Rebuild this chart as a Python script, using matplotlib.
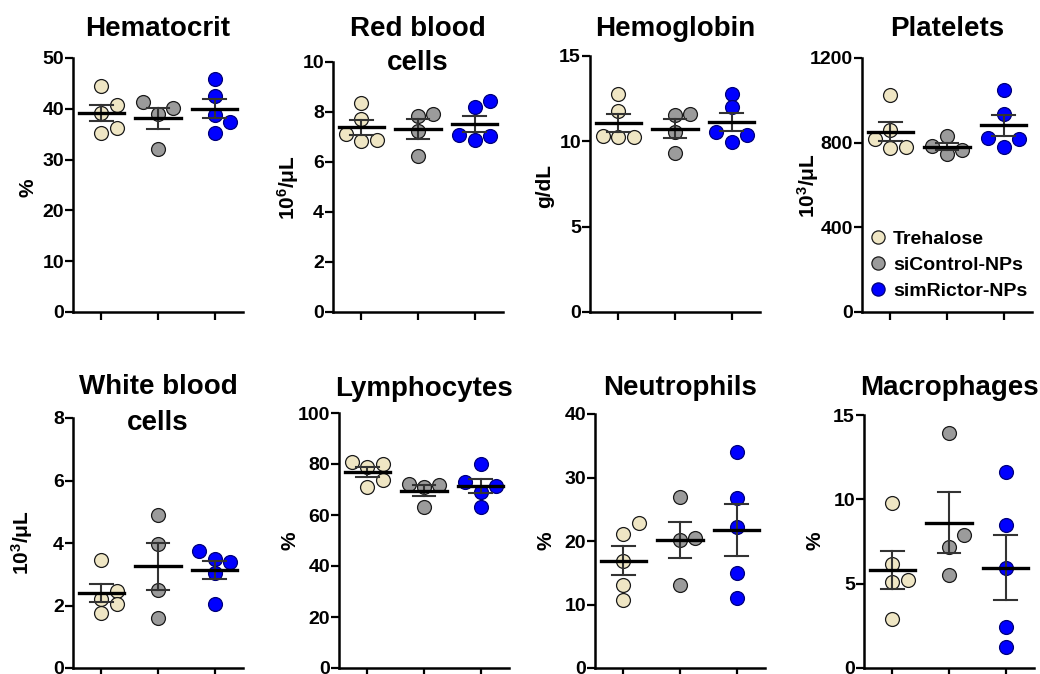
import numpy as np
import matplotlib
matplotlib.use("Agg")
import matplotlib.pyplot as plt
from matplotlib.lines import Line2D

plt.rcParams['font.family'] = ['Liberation Sans', 'DejaVu Sans']
plt.rcParams['font.weight'] = 'bold'
plt.rcParams['mathtext.fontset'] = 'custom'
plt.rcParams['mathtext.rm'] = 'Liberation Sans:bold'
plt.rcParams['mathtext.it'] = 'Liberation Sans:bold'
plt.rcParams['mathtext.bf'] = 'Liberation Sans:bold'

groups = ["Trehalose", "siControl-NPs", "simRictor-NPs"]
colors = ["#efe6c4", "#9b9b9b", "#0000ff"]
edges = ["#1a1a1a", "#1a1a1a", "#00007a"]

titles = ["Hematocrit", "Red blood\ncells", "Hemoglobin", "Platelets",
          "White blood\ncells", "Lymphocytes", "Neutrophils", "Macrophages"]
ylabels = ["%", r"10$^{6}$/μL", "g/dL", r"10$^{3}$/μL",
           r"10$^{3}$/μL", "%", "%", "%"]
ymax = [50, 10, 15, 1200, 8, 100, 40, 15]
ystep = [10, 2, 5, 400, 2, 20, 10, 5]

# values per group: Trehalose, siControl-NPs, simRictor-NPs
hematocrit = [[44.4, 40.8, 39.1, 36.2, 35.3], [40.1, 41.4, 38.9, 32.1],
              [45.9, 42.6, 38.8, 37.4, 35.3]]
rbc = [[8.36, 7.74, 7.14, 6.87, 6.83], [7.86, 7.94, 7.23, 6.23],
       [8.43, 8.20, 7.10, 7.06, 6.87]]
hemoglobin = [[12.78, 11.75, 10.29, 10.25, 10.25], [11.55, 11.59, 10.54, 9.31],
              [12.78, 12.0, 10.54, 10.38, 9.99]]
platelets = [[1027, 861, 819, 780, 776], [830, 783, 767, 745],
             [1050, 937, 824, 819, 780]]
wbc = [[3.45, 2.47, 2.22, 2.05, 1.76], [4.91, 3.98, 2.51, 1.60],
       [3.73, 3.50, 3.39, 3.04, 2.05]]
lymphocytes = [[80.0, 79.0, 80.9, 73.8, 71.1], [71.8, 70.9, 72.2, 63.3],
               [80.0, 73.1, 71.5, 69.2, 63.3]]
neutrophils = [[22.8, 21.1, 16.8, 13.1, 10.7], [26.9, 20.4, 20.1, 13.1],
               [34.0, 26.8, 22.2, 14.9, 11.1]]
macrophages = [[9.81, 6.18, 5.19, 5.07, 2.92], [13.91, 7.89, 7.20, 5.49],
               [11.64, 8.49, 5.92, 2.43, 1.24]]
panels = [hematocrit, rbc, hemoglobin, platelets,
          wbc, lymphocytes, neutrophils, macrophages]

W, H = 1040, 674
# axes boxes in pixels: left, top, bottom
boxes = [(73, 58, 312), (333, 62, 312), (590, 56, 312), (862, 58, 312),
         (73, 418, 668), (339, 413, 668), (595, 414, 668), (864, 415, 668)]
AXW = 170
title_y = [29, 46, 29, 29, 405, 389, 388, 388]
ylab_pos = [(28, 188), (288, 188), (545, 186), (808, 186),
            (22, 543), (290, 541), (546, 541), (815, 541)]


def swarm(vals, px_per_unit, step=0.27, px_per_x=57, thresh=13):
    vals = np.asarray(vals, dtype=float)
    offs = np.zeros(len(vals))
    placed = []
    for i in np.argsort(vals):
        y = vals[i] * px_per_unit
        for cand in [0, step, -step, 2 * step, -2 * step]:
            if all(np.hypot((cand - xo) * px_per_x, y - yo) >= thresh
                   for xo, yo in placed):
                break
        offs[i] = cand
        placed.append((cand, y))
    return offs


fig = plt.figure(figsize=(W / 100, H / 100), dpi=100)

for k, data in enumerate(panels):
    left, top, bottom = boxes[k]
    ax = fig.add_axes([left / W, (H - bottom) / H, AXW / W, (bottom - top) / H])
    ax.set_xlim(-0.5, 2.5)
    ax.set_ylim(0, ymax[k])
    ppu = (bottom - top) / ymax[k]
    for g, vals in enumerate(data):
        vals = np.asarray(vals, dtype=float)
        x = g + swarm(vals, ppu)
        ax.scatter(x, vals, s=100, c=colors[g], edgecolors=edges[g],
                   linewidths=0.9, zorder=2, clip_on=False)
        m = vals.mean()
        sem = vals.std(ddof=1) / np.sqrt(len(vals))
        ax.plot([g, g], [m - sem, m + sem], color="#333333", lw=1.5, zorder=3)
        for yy in (m - sem, m + sem):
            ax.plot([g - 0.2, g + 0.2], [yy, yy], color="#333333", lw=1.5, zorder=3)
        ax.plot([g - 0.4, g + 0.4], [m, m], color="black", lw=2.4, zorder=4)

    ax.set_xticks([0, 1, 2])
    ax.set_xticklabels([])
    ax.set_yticks(np.arange(0, ymax[k] + ystep[k] / 2, ystep[k]))
    ax.tick_params(axis='y', length=5.5, width=1.6, labelsize=14, pad=1)
    ax.tick_params(axis='x', length=5.5, width=1.6)
    for lab in ax.get_yticklabels():
        lab.set_fontweight('bold')
    for s in ['top', 'right']:
        ax.spines[s].set_visible(False)
    for s in ['left', 'bottom']:
        ax.spines[s].set_linewidth(1.8)

    lx, ly = ylab_pos[k]
    fig.text(lx / W, 1 - ly / H, ylabels[k], rotation=90, fontsize=15,
             fontweight='bold', ha='center', va='center')

    fig.text((left + AXW / 2) / W, 1 - title_y[k] / H, titles[k], fontsize=20,
             fontweight='bold', ha='center', va='center', linespacing=1.45)

    if k == 3:
        handles = [Line2D([], [], ls='none', marker='o', markersize=9.5,
                          markerfacecolor=colors[g], markeredgecolor=edges[g],
                          markeredgewidth=0.9) for g in range(3)]
        ax.legend(handles, groups, loc='upper left', frameon=False,
                  bbox_to_anchor=(0.053, 0.323), borderaxespad=0, borderpad=0,
                  handlelength=0.7, handletextpad=0.43, labelspacing=0.43,
                  prop={'size': 14, 'weight': 'bold'})

fig.savefig("out.png", dpi=100)
